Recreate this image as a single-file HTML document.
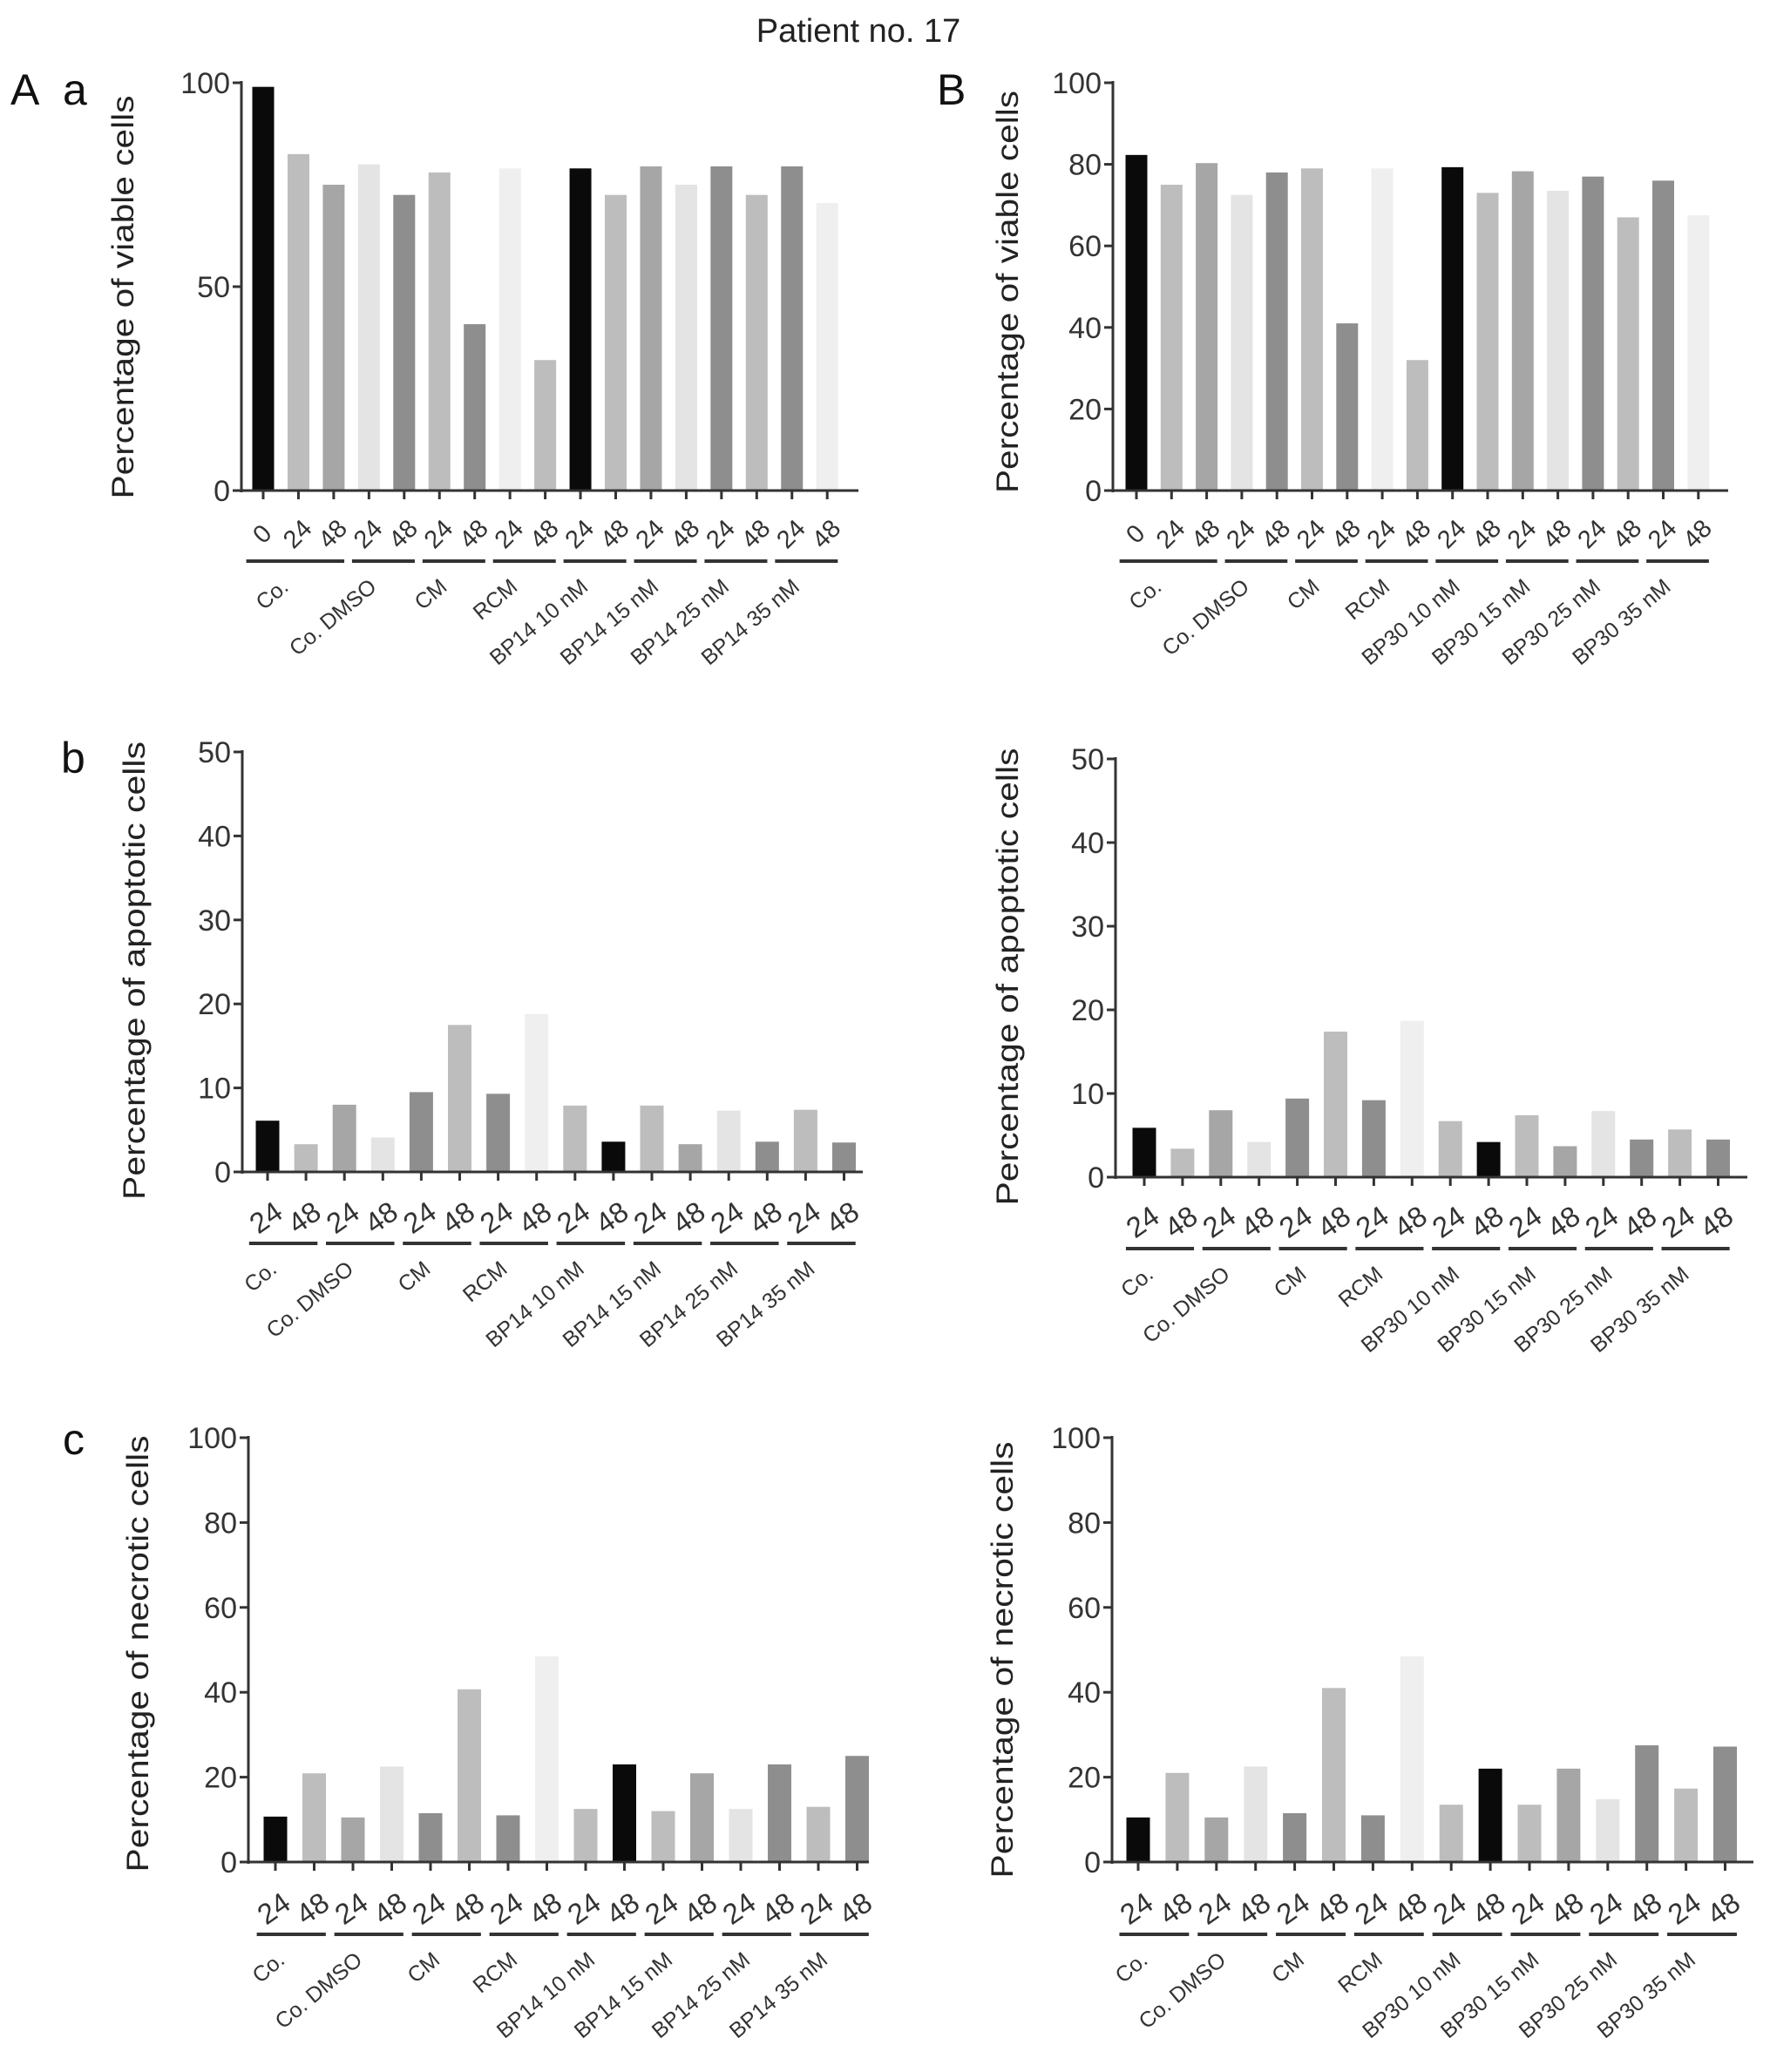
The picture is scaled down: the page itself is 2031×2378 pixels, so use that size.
<!DOCTYPE html>
<html><head><meta charset="utf-8"><style>
html,body{margin:0;padding:0;background:#fff;}
svg{display:block;font-family:"Liberation Sans",Arial,sans-serif;}
</style></head><body>
<svg id="fig" width="2031" height="2378" viewBox="0 0 2031 2378" xmlns="http://www.w3.org/2000/svg">
<rect width="2031" height="2378" fill="#fff"/>
<text x="985" y="48" font-size="38" text-anchor="middle" fill="#222">Patient no. 17</text>
<text x="12" y="120" font-size="50" fill="#111">A</text>
<text x="72" y="120" font-size="50" fill="#111">a</text>
<text x="1075" y="120" font-size="50" fill="#111">B</text>
<text x="70" y="887" font-size="50" fill="#111">b</text>
<text x="72" y="1669" font-size="50" fill="#111">c</text>
</svg>
<script>
// ---- data ----
const groupsA = ["Co.", "Co. DMSO", "CM", "RCM", "BP14 10 nM", "BP14 15 nM", "BP14 25 nM", "BP14 35 nM"];
const groupsB = ["Co.", "Co. DMSO", "CM", "RCM", "BP30 10 nM", "BP30 15 nM", "BP30 25 nM", "BP30 35 nM"];
const timesViable = ["0","24","48","24","48","24","48","24","48","24","48","24","48","24","48","24","48"];
const groupSizesViable = [3,2,2,2,2,2,2,2];
const timesOther = ["24","48","24","48","24","48","24","48","24","48","24","48","24","48","24","48"];
const groupSizesOther = [2,2,2,2,2,2,2,2];
const viableA = [99, 82.5, 75, 80, 72.5, 78, 40.8, 79, 32, 79, 72.5, 79.5, 75, 79.5, 72.5, 79.5, 70.5];
const viableB = [82.3, 75, 80.3, 72.5, 78, 79, 41, 79, 32, 79.3, 73, 78.3, 73.5, 77, 67, 76, 67.5];
const apopA = [6.1, 3.3, 8, 4.1, 9.5, 17.5, 9.3, 18.8, 7.9, 3.6, 7.9, 3.3, 7.3, 3.6, 7.4, 3.5];
const apopB = [5.9, 3.4, 8, 4.2, 9.4, 17.4, 9.2, 18.7, 6.7, 4.2, 7.4, 3.7, 7.9, 4.5, 5.7, 4.5];
const necA = [10.7, 20.9, 10.5, 22.5, 11.5, 40.7, 11, 48.5, 12.5, 23, 12, 20.9, 12.5, 23, 13, 25];
const necB = [10.5, 21, 10.5, 22.5, 11.5, 41, 11, 48.5, 13.5, 22, 13.5, 22, 14.8, 27.5, 17.3, 27.2];
const ticksViableA = [0, 50, 100];
const ticksViableB = [0, 20, 40, 60, 80, 100];
const ticksApop = [0, 10, 20, 30, 40, 50];
const ticksNec = [0, 20, 40, 60, 80, 100];
// bar shades (style)
const shadesViable = ["#0a0a0a","#bdbdbd","#a6a6a6","#e4e4e4","#8e8e8e","#bdbdbd","#8e8e8e","#efefef","#bdbdbd","#0a0a0a","#bdbdbd","#a6a6a6","#e4e4e4","#8e8e8e","#bdbdbd","#8e8e8e","#efefef"];
const shadesOther = ["#0a0a0a","#bdbdbd","#a6a6a6","#e4e4e4","#8e8e8e","#bdbdbd","#8e8e8e","#efefef","#bdbdbd","#0a0a0a","#bdbdbd","#a6a6a6","#e4e4e4","#8e8e8e","#bdbdbd","#8e8e8e"];

const NS = "http://www.w3.org/2000/svg";
const svg = document.getElementById("fig");
function mk(tag, attrs, parent){ const e=document.createElementNS(NS,tag); for(const k in attrs) e.setAttribute(k, attrs[k]); (parent||svg).appendChild(e); return e; }

function panel(p){
  const g = mk("g", {});
  
  
  const yMax = p.ticks[p.ticks.length-1];
  const yS = v => p.y0 - (v / yMax) * (p.y0 - p.yTop);
  const xS = i => p.x1 + i * p.sp;
  const bw = p.bw;
  p.values.forEach((v, i) => {
    const r = mk("rect", {x: xS(i)-bw/2, y: yS(v), width: bw, height: p.y0 - yS(v), fill: p.shades[i]}, g);
    
    
  });
  const ya = mk("line", {x1: p.ax, y1: p.yTop-2, x2: p.ax, y2: p.y0+2, stroke: "#333", "stroke-width": 3}, g);
  
  
  p.ticks.forEach(t => {
    mk("line", {x1: p.ax-10, y1: yS(t), x2: p.ax, y2: yS(t), stroke: "#333", "stroke-width": 3}, g);
    const tl = mk("text", {x: p.ax-13, y: yS(t)+12, "font-size": 34, "text-anchor": "end", fill: "#333"}, g);
    tl.textContent = t;
    
    
  });
  const xa = mk("line", {x1: p.ax, y1: p.y0, x2: p.xEnd, y2: p.y0, stroke: "#333", "stroke-width": 3}, g);
  
  
  p.times.forEach((t, i) => {
    mk("line", {x1: xS(i), y1: p.y0, x2: xS(i), y2: p.y0+10, stroke: "#333", "stroke-width": 3}, g);
    const tl = mk("text", {x: xS(i), y: p.tickY, "font-size": p.tfs, "text-anchor": "middle", fill: "#333", transform: `rotate(${p.trot} ${xS(i)} ${p.tickY-8})`}, g);
    tl.textContent = t;
    
    
  });
  let idx = 0;
  p.sizes.forEach((n, gi) => {
    const first = xS(idx), last = xS(idx+n-1);
    const ul = mk("line", {x1: first - 0.48*p.sp, x2: last + 0.3*p.sp, y1: p.ulY, y2: p.ulY, stroke: "#333", "stroke-width": 4}, g);
    
    
    const cx = (first + last)/2 - 10, cy = p.ulY + 32;
    const gl = mk("text", {x: cx, y: cy, "font-size": 25, "text-anchor": "end", fill: "#333", transform: `rotate(${p.grot} ${cx} ${cy})`}, g);
    gl.textContent = p.groups[gi];
    
    
    idx += n;
  });
  const yt = mk("text", {x: 0, y: 0, "font-size": 35, "text-anchor": "middle", fill: "#222", textLength: p.tLen, lengthAdjust: "spacingAndGlyphs", transform: `translate(${p.tX} ${p.tY}) rotate(-90)`}, g);
  yt.textContent = p.title;
  
  
}

panel({name:"viable-bp14", values: viableA, shades: shadesViable, times: timesViable, sizes: groupSizesViable, groups: groupsA, ticks: ticksViableA,
  ax:277, yTop:95, y0:563, x1:302, sp:40.45, bw:25, xEnd:985, tickY:622, tfs:29, trot:-45, ulY:644, grot:-40,
  title:"Percentage of viable cells", tX:153, tY:341, tLen:463});
panel({name:"viable-bp30", values: viableB, shades: shadesViable, times: timesViable, sizes: groupSizesViable, groups: groupsB, ticks: ticksViableB,
  ax:1277, yTop:95, y0:563, x1:1304, sp:40.3, bw:25, xEnd:1983, tickY:622, tfs:29, trot:-45, ulY:644, grot:-40,
  title:"Percentage of viable cells", tX:1168, tY:335, tLen:462});
panel({name:"apoptotic-bp14", values: apopA, shades: shadesOther, times: timesOther, sizes: groupSizesOther, groups: groupsA, ticks: ticksApop,
  ax:278, yTop:863, y0:1345, x1:307, sp:44.1, bw:27, xEnd:990, tickY:1408, tfs:33, trot:-35, ulY:1427, grot:-40,
  title:"Percentage of apoptotic cells", tX:166, tY:1114, tLen:526});
panel({name:"apoptotic-bp30", values: apopB, shades: shadesOther, times: timesOther, sizes: groupSizesOther, groups: groupsB, ticks: ticksApop,
  ax:1280, yTop:871, y0:1351, x1:1313, sp:43.9, bw:27, xEnd:2005, tickY:1413, tfs:33, trot:-35, ulY:1433, grot:-40,
  title:"Percentage of apoptotic cells", tX:1168, tY:1121, tLen:525});
panel({name:"necrotic-bp14", values: necA, shades: shadesOther, times: timesOther, sizes: groupSizesOther, groups: groupsA, ticks: ticksNec,
  ax:285, yTop:1650, y0:2137, x1:316, sp:44.5, bw:27, xEnd:997, tickY:2201, tfs:33, trot:-35, ulY:2220, grot:-40,
  title:"Percentage of necrotic cells", tX:170, tY:1898, tLen:501});
panel({name:"necrotic-bp30", values: necB, shades: shadesOther, times: timesOther, sizes: groupSizesOther, groups: groupsB, ticks: ticksNec,
  ax:1276, yTop:1650, y0:2137, x1:1306, sp:44.9, bw:27, xEnd:2012, tickY:2201, tfs:33, trot:-35, ulY:2220, grot:-40,
  title:"Percentage of necrotic cells", tX:1162, tY:1905, tLen:501});
</script>
</body></html>
